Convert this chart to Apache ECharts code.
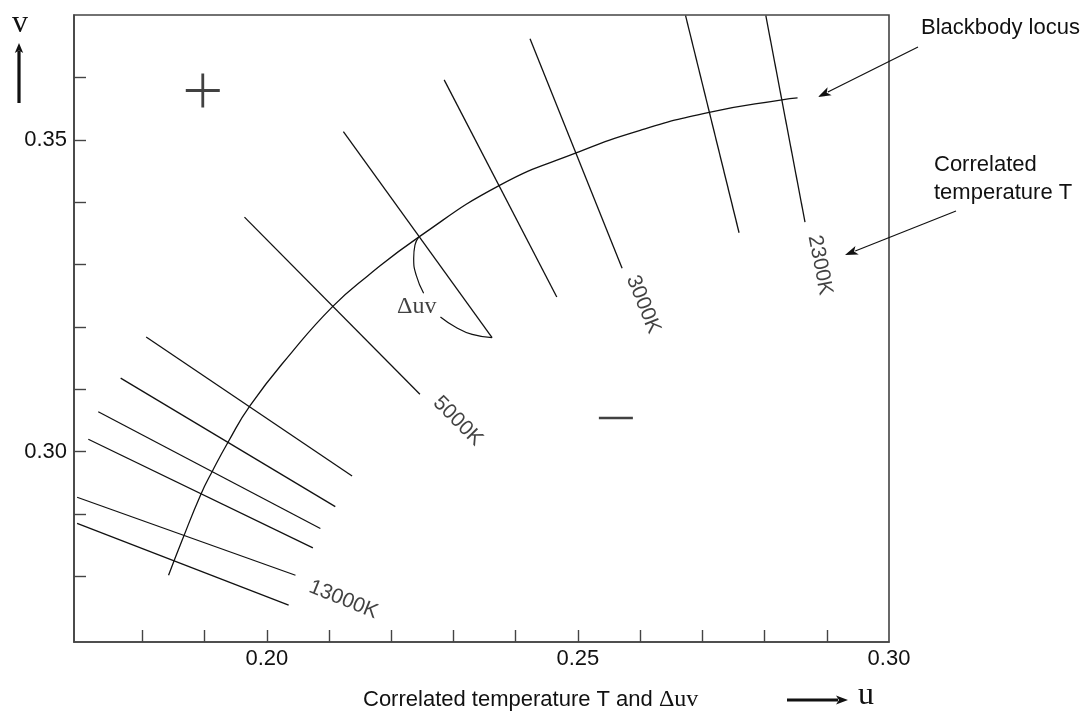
<!DOCTYPE html>
<html>
<head>
<meta charset="utf-8">
<style>
html, body { margin: 0; padding: 0; background: #fff; }
#main { width: 1085px; height: 718px; }
</style>
<script src="https://cdn.jsdelivr.net/npm/echarts@6/dist/echarts.min.js"></script>
</head>
<body>
<div id="main"></div>
<script>
// blackbody locus in (u, v)
const locusU = [0.1842, 0.1863, 0.1894, 0.1913, 0.1938, 0.1973, 0.2039, 0.2106, 0.2161, 0.2244, 0.2374, 0.2497, 0.2600, 0.2711, 0.2828, 0.2853];
const locusV = [0.2802, 0.2856, 0.2932, 0.2970, 0.3016, 0.3074, 0.3158, 0.3233, 0.3281, 0.3344, 0.3427, 0.3479, 0.3515, 0.3544, 0.3564, 0.3567];

// iso-temperature lines, start and end points
const isoStartU = [0.1695, 0.1695, 0.1713, 0.1729, 0.1765, 0.1806, 0.1964, 0.2123, 0.2285, 0.2423, 0.2673, 0.2802];
const isoStartV = [0.2885, 0.2927, 0.3020, 0.3064, 0.3118, 0.3184, 0.3376, 0.3513, 0.3596, 0.3662, 0.3699, 0.3699];
const isoEndU = [0.2035, 0.2046, 0.2074, 0.2086, 0.2110, 0.2137, 0.2246, 0.2362, 0.2466, 0.2571, 0.2759, 0.2865];
const isoEndV = [0.2754, 0.2802, 0.2846, 0.2877, 0.2912, 0.2961, 0.3092, 0.3183, 0.3248, 0.3294, 0.3351, 0.3368];

// delta-uv arc (two pieces around the label)
const arc1U = [0.2244, 0.2238, 0.2236, 0.2240, 0.2252];
const arc1V = [0.3344, 0.3331, 0.3310, 0.3283, 0.3254];
const arc2U = [0.2279, 0.2303, 0.2330, 0.2362];
const arc2V = [0.3216, 0.3200, 0.3188, 0.3183];

// + / - signs
const plusPoint = [0.1897, 0.3579];
const minusPoint = [0.2561, 0.3054];

// temperature labels
const tempNames = ['13000K', '5000K', '3000K', '2300K'];
const tempU = [0.2123, 0.2307, 0.2605, 0.2889];
const tempV = [0.2763, 0.3049, 0.3236, 0.3299];

const xTicks = [0.18, 0.19, 0.20, 0.21, 0.22, 0.23, 0.24, 0.25, 0.26, 0.27, 0.28, 0.29];
const xLabels = [0.20, 0.25, 0.30];
const yTicks = [0.28, 0.29, 0.30, 0.31, 0.32, 0.33, 0.34, 0.35, 0.36];
const yLabels = [0.30, 0.35];

const ink = '#111';
const sans = 'Liberation Sans, Arial, Helvetica, sans-serif';
const serif = 'Liberation Serif, Times New Roman, serif';
const tempRotate = [-22, -45, -68, -79];

const zip = (a, b) => a.map((x, i) => [x, b[i]]);

const series = [];
series.push({
  type: 'line', data: zip(locusU, locusV), smooth: 0.5, showSymbol: false,
  lineStyle: { color: ink, width: 1.3 }, silent: true
});
isoStartU.forEach((u, i) => {
  series.push({
    type: 'line', showSymbol: false, silent: true,
    data: [[u, isoStartV[i]], [isoEndU[i], isoEndV[i]]],
    lineStyle: { color: ink, width: 1.3 }
  });
});
[[arc1U, arc1V], [arc2U, arc2V]].forEach(([au, av]) => {
  series.push({
    type: 'line', data: zip(au, av), smooth: true, showSymbol: false, silent: true,
    lineStyle: { color: ink, width: 1.2 }
  });
});
series.push({
  type: 'scatter', silent: true,
  data: [
    { value: plusPoint, symbol: 'path://M0,15.6h34v2.8h-34z M15.6,0h2.8v34h-2.8z', symbolSize: [34, 34] },
    { value: minusPoint, symbol: 'rect', symbolSize: [34, 2.6] }
  ],
  itemStyle: { color: ink }
});
series.push({
  type: 'scatter', silent: true, symbolSize: 0,
  data: tempNames.map((n, i) => ({
    value: [tempU[i], tempV[i]],
    label: { show: true, formatter: n, rotate: tempRotate[i], position: 'inside',
      color: ink, fontSize: 21, fontFamily: sans }
  })).concat([{
    value: [0.2241, 0.3232],
    label: { show: true, formatter: 'Δuv', position: 'inside', color: ink, fontSize: 24, fontFamily: serif }
  }])
});

function arrow(x1, y1, x2, y2, w, head, hw) {
  const dx = x2 - x1, dy = y2 - y1, len = Math.hypot(dx, dy);
  const ux = dx / len, uy = dy / len, px = -uy, py = ux;
  const bx = x2 - ux * head, by = y2 - uy * head;
  return [
    { type: 'line', shape: { x1: x1, y1: y1, x2: bx + ux * 2, y2: by + uy * 2 }, style: { stroke: ink, lineWidth: w }, silent: true },
    { type: 'polygon', shape: { points: [[x2, y2], [bx + px * hw, by + py * hw], [bx + ux * head * 0.25, by + uy * head * 0.25], [bx - px * hw, by - py * hw]] }, style: { fill: ink }, silent: true }
  ];
}

const graphic = [].concat(
  arrow(19, 103, 19, 43, 3.2, 10, 4.2),
  arrow(787, 700, 848, 700, 3, 12, 4.5),
  arrow(918, 47, 818, 97, 1.2, 13, 4.5),
  arrow(956, 211, 845, 255, 1.2, 13, 4.5),
  [
    { type: 'text', left: 12, top: 8, style: { text: 'v', font: '32px ' + serif, fill: ink } },
    { type: 'text', left: 858, top: 680, style: { text: 'u', font: '32px ' + serif, fill: ink } },
    { type: 'text', left: 921, top: 17, style: { text: 'Blackbody locus', font: '22px ' + sans, fill: ink } },
    { type: 'text', left: 934, top: 151, style: { text: 'Correlated\ntemperature T', font: '22px ' + sans, fill: ink, lineHeight: 28 } },
    { type: 'text', left: 363, top: 688, style: {
      text: 'Correlated temperature T and {d|Δuv}', font: '22px ' + sans, fill: ink,
      rich: { d: { fontFamily: serif, fontSize: 24, fill: ink } } } }
  ]
);

const chart = echarts.init(document.getElementById('main'));
chart.setOption({
  animation: false,
  backgroundColor: '#fff',
  grid: { left: 74, top: 15, right: 196, bottom: 76, show: true, borderColor: '#444', borderWidth: 1.6, outerBoundsMode: 'none' },
  xAxis: {
    type: 'value', min: 0.169, max: 0.30,
    axisLine: { lineStyle: { color: '#444', width: 1.6 } },
    splitLine: { show: false },
    axisTick: { inside: true, length: 12, customValues: xTicks, lineStyle: { color: '#444', width: 1.4 } },
    axisLabel: { customValues: xLabels, formatter: v => v.toFixed(2), color: ink, fontSize: 22, fontFamily: sans, margin: 6 }
  },
  yAxis: {
    type: 'value', min: 0.2695, max: 0.37,
    axisLine: { show: true, lineStyle: { color: '#444', width: 1.6 } },
    splitLine: { show: false },
    axisTick: { show: true, inside: true, length: 12, customValues: yTicks, lineStyle: { color: '#444', width: 1.4 } },
    axisLabel: { customValues: yLabels, formatter: v => v.toFixed(2), color: ink, fontSize: 22, fontFamily: sans, margin: 7 }
  },
  series: series,
  graphic: graphic
});
</script>
</body>
</html>
